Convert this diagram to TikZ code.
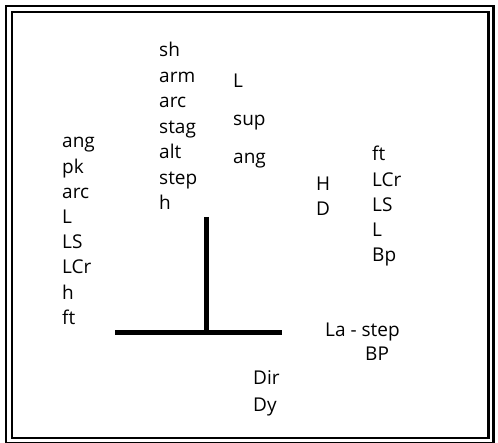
\documentclass[tikz,border=0pt]{standalone}
\usepackage{fontspec}
\setmainfont{Open Sans}
\tikzset{
	lbl/.style={anchor=base west, inner sep=0pt,
		font=\fontsize{19}{23}\selectfont},
	bar/.style={line width=5pt}
}
\begin{document}
\begin{tikzpicture}[x=1pt,y=-1pt]
	\useasboundingbox (0,0) rectangle (498,443);

	% double frame
	\draw [line width=2.5pt] (6,6) rectangle (493.5,443.5);
	\draw [line width=2.2pt] (12,12) rectangle (488.5,438);

	% the T
	\coordinate (top) at (206.5,217);
	\coordinate (foot) at (206.5,332.5);
	\coordinate (left) at (115,332.5);
	\coordinate (right) at (282,332.5);
	\draw [bar] (top) -- (foot);
	\draw [bar] (left) -- (right);

	\foreach \w [count=\i] in {ang,pk,arc,L,LS,LCr,h,ft}
		\node [lbl] (a\i) at (62,{148+25.2*(\i-1)}) {\w};
	\foreach \w [count=\i] in {sh,arm,arc,stag,alt,step,h}
		\node [lbl] (b\i) at (159,{57+25.5*(\i-1)}) {\w};
	\foreach \w [count=\i] in {L,sup,ang}
		\node [lbl] (c\i) at (233,{88+38*(\i-1)}) {\w};
	\foreach \w [count=\i] in {ft,LCr,LS,L,Bp}
		\node [lbl] (d\i) at (372,{161+25.2*(\i-1)}) {\w};

	\node [lbl] (h) at (316,191) {H};
	\node [lbl] (d) at (316,216) {D};
	\node [lbl] (lastep) at (325,337) {La - step};
	\node [lbl] (bp) at (365,361) {BP};
	\node [lbl] (dir) at (253,385) {Dir};
	\node [lbl] (dy) at (253,411) {Dy};

\end{tikzpicture}
\end{document}
